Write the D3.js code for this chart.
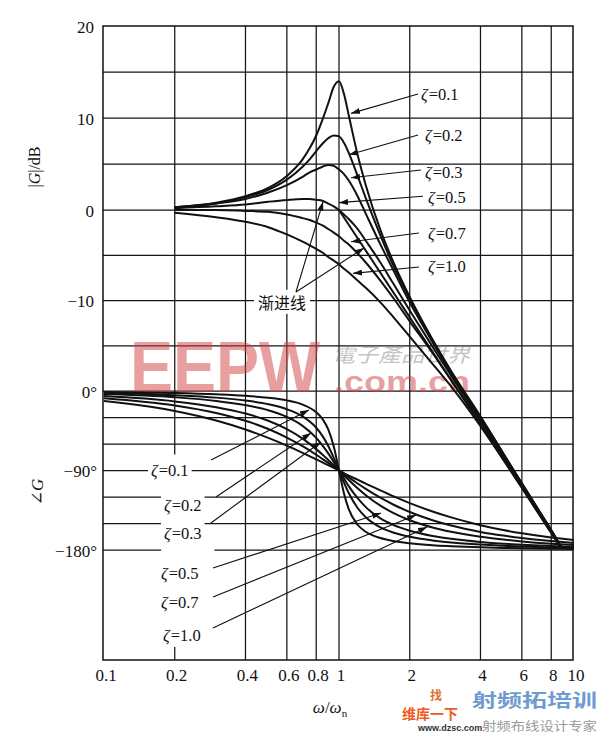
<!DOCTYPE html>
<html lang="zh">
<head>
  <meta charset="utf-8">
  <title>二阶系统伯德图</title>
  <script src="https://d3js.org/d3.v7.min.js"></script>
  <style>
    body { margin: 0; background: #fff; }
    svg { display: block; }
    .grid line { stroke: #151515; stroke-width: 1.25px; }
    .frame { fill: none; stroke: #111; stroke-width: 1.5px; }
    .curve { fill: none; stroke: #111; stroke-width: 2px; }
    .arrow { fill: none; stroke: #111; stroke-width: 1.1px; }
    .tick { font: 17px "Liberation Serif", "DejaVu Serif", serif; fill: #111; }
    .zlabel { font: 16.5px "Liberation Serif", "DejaVu Serif", serif; fill: #111; }
    .title { font: 16px "Liberation Serif", "DejaVu Serif", serif; fill: #111; }
  </style>
</head>
<body>
<svg id="chart" width="600" height="734"></svg>
<script>

// damping ratios
var zetas = ["0.1", "0.2", "0.3", "0.5", "0.7", "1.0"];

// magnitude |G| (dB), upper part of the chart
var magW   = [0.2, 0.3, 0.4, 0.5, 0.6, 0.7, 0.75, 0.8, 0.85, 0.9, 0.95, 1.0, 1.05, 1.1, 1.2, 1.3, 1.5, 1.7, 2, 2.5, 3, 4, 5, 6, 7, 8, 8.8];
var magZ01 = [0.3, 0.8, 1.5, 2.4, 3.7, 5.5, 6.7, 8.1, 9.8, 11.6, 13.4, 14.0, 12.6, 10.3, 6.0, 2.7, -2.2, -5.7, -9.6, -14.3, -17.8, -22.8, -26.9, -30.2, -33.0, -35.4, -37.2];
var magZ02 = [0.3, 0.7, 1.4, 2.2, 3.3, 4.7, 5.5, 6.4, 7.2, 7.8, 8.1, 8.0, 7.3, 6.2, 3.7, 1.3, -2.8, -6.1, -9.8, -14.4, -17.9, -22.9, -26.9, -30.2, -33.0, -35.4, -37.2];
var magZ03 = [0.3, 0.7, 1.2, 1.9, 2.7, 3.6, 4.1, 4.4, 4.7, 4.9, 4.8, 4.4, 3.9, 3.2, 1.5, -0.4, -3.8, -6.6, -10.2, -14.6, -18.0, -23.0, -27.0, -30.3, -33.0, -35.4, -37.2];
var magZ05 = [0.2, 0.4, 0.6, 0.9, 1.1, 1.2, 1.2, 1.1, 1.0, 0.7, 0.4, 0.0, -0.5, -1.0, -2.1, -3.4, -5.8, -8.1, -11.1, -15.1, -18.3, -23.2, -27.1, -30.3, -33.1, -35.5, -37.3];
var magZ07 = [0.0, 0.0, -0.1, -0.2, -0.5, -0.9, -1.1, -1.4, -1.7, -2.1, -2.5, -2.9, -3.4, -3.8, -4.8, -5.8, -7.8, -9.7, -12.3, -15.8, -18.8, -23.4, -27.3, -30.4, -33.2, -35.5, -37.3];
var magZ10 = [-0.3, -0.8, -1.3, -1.9, -2.7, -3.5, -3.9, -4.3, -4.7, -5.2, -5.6, -6.0, -6.5, -6.9, -7.8, -8.6, -10.2, -11.8, -14.0, -17.0, -19.5, -23.9, -27.6, -30.7, -33.4, -35.7, -37.4];

// asymptote (sloped part)
var asymW  = [1, 8.8];
var asymDb = [0, -37.2];

// phase angle (deg), lower part of the chart
var phW   = [0.1, 0.2, 0.3, 0.4, 0.5, 0.6, 0.7, 0.8, 0.85, 0.9, 0.95, 1, 1.05, 1.1, 1.2, 1.3, 1.5, 1.7, 2, 2.5, 3, 4, 5, 6, 8, 10];
var phZ01 = [-1.2, -2.4, -3.8, -5.4, -7.6, -10.6, -15.4, -24.0, -31.5, -43.5, -62.8, -90, -116.0, -133.7, -151.4, -159.4, -166.5, -169.8, -172.4, -174.6, -175.7, -177.0, -177.6, -178.0, -178.6, -178.8];
var phZ02 = [-2.3, -4.8, -7.5, -10.8, -14.9, -20.6, -28.8, -41.6, -50.8, -62.2, -75.6, -90, -103.7, -115.5, -132.5, -143.0, -154.4, -160.2, -165.1, -169.2, -171.5, -173.9, -175.2, -176.1, -177.1, -177.7];
var phZ03 = [-3.5, -7.1, -11.2, -16.0, -21.8, -29.4, -39.5, -53.1, -61.5, -70.6, -80.3, -90, -99.2, -107.7, -121.4, -131.5, -144.3, -151.6, -158.2, -164.1, -167.3, -170.9, -172.9, -174.1, -175.6, -176.5];
var phZ05 = [-5.8, -11.8, -18.3, -25.5, -33.7, -43.2, -53.9, -65.8, -71.9, -78.1, -84.1, -90, -95.6, -100.8, -110.1, -118.0, -129.8, -138.0, -146.3, -154.5, -159.4, -165.1, -168.2, -170.3, -172.8, -174.2];
var phZ07 = [-8.1, -16.3, -24.8, -33.7, -43.0, -52.7, -62.5, -72.2, -76.9, -81.4, -85.8, -90, -94.0, -97.8, -104.7, -110.8, -120.8, -128.5, -137.0, -146.3, -152.3, -159.5, -163.7, -166.5, -169.9, -172.0];
var phZ10 = [-11.4, -22.6, -33.4, -43.6, -53.1, -61.9, -70.0, -77.3, -80.7, -84.0, -87.1, -90, -92.9, -95.7, -100.4, -104.9, -112.6, -119.1, -126.9, -136.4, -143.1, -151.9, -157.4, -161.1, -165.8, -168.6];

// ticks and grid
var xTicks    = [0.1, 0.2, 0.4, 0.6, 0.8, 1, 2, 4, 6, 8, 10];
var xTickText = ["0.1", "0.2", "0.4", "0.6", "0.8", "1", "2", "4", "6", "8", "10"];
var xGrid     = [0.2, 0.4, 0.6, 0.8, 1, 2, 4, 6, 8];
var magGrid   = [15, 10, 5, 0, -5, -10, -15];
var magTicks  = [20, 10, 0, -10];
var phGrid    = [0, -30, -60, -90, -120, -150, -180];
var phTicks   = [0, -90, -180];

// annotations: label position, arrow start, arrow tip  [omega, value]
var magNoteAt   = [[2.233, 12.6], [2.322, 8.15], [2.322, 4.1], [2.393, 1.4], [2.393, -2.54], [2.393, -6.2]];
var magNoteFrom = [[2.169, 12.6], [2.169, 8.15], [2.233, 4.35], [2.277, 1.5], [2.19, -2.54], [2.19, -6.3]];
var magNoteTo   = [[1.125, 10.5], [1.103, 6.0], [1.125, 3.5], [1.0, 0.8], [1.125, -3.5], [1.147, -7.0]];
var phNoteAt    = [[0.1585, -89.4], [0.18, -129.1], [0.18, -160.8], [0.1748, -206], [0.1748, -238.9], [0.1783, -276.3]];
var phNoteFrom  = [[0.2852, -78.1], [0.2996, -120], [0.2852, -149.4], [0.291, -200.4], [0.291, -233.2], [0.291, -268.3]];
var phNoteTo    = [[0.745, -21.5], [0.76, -47.5], [0.838, -57.7], [1.51, -138.1], [2.13, -140.4], [2.37, -154]];
var asymNoteAt   = [0.572, -10.3];
var asymNoteFrom = [0.656, -9.06];
var asymNoteTo   = [[0.855, 0.9], [1.277, -4.2]];

var magSeries = [magZ01, magZ02, magZ03, magZ05, magZ07, magZ10];
var phSeries  = [phZ01, phZ02, phZ03, phZ05, phZ07, phZ10];

var svg = d3.select("#chart");
var plotLeft = 103, plotRight = 573, plotTop = 26, plotBottom = 660;

var x = d3.scaleLog().domain([0.1, 10]).range([plotLeft + 1, plotRight + 1]);
var yMag = d3.scaleLinear().domain([20, 0, -20]).range([plotTop, 210, 391]);
var yPh = d3.scaleLinear().domain([0, -180]).range([391, 550]);

svg.append("defs").append("marker")
    .attr("id", "head")
    .attr("markerUnits", "userSpaceOnUse")
    .attr("markerWidth", 9).attr("markerHeight", 6)
    .attr("refX", 9).attr("refY", 3)
    .attr("orient", "auto")
  .append("path")
    .attr("d", "M0,0L9,3L0,6Z")
    .attr("fill", "#111");

var gGrid = svg.append("g").attr("class", "grid");
var gMask = svg.append("g");
var gWater = svg.append("g");
var gCurve = svg.append("g");
var gNote = svg.append("g");

// grid
gGrid.selectAll(".vx").data(xGrid).enter().append("line")
    .attr("x1", function(d) { return x(d); }).attr("x2", function(d) { return x(d); })
    .attr("y1", plotTop).attr("y2", plotBottom);
gGrid.selectAll(".hm").data(magGrid).enter().append("line")
    .attr("x1", plotLeft).attr("x2", plotRight)
    .attr("y1", function(d) { return yMag(d); }).attr("y2", function(d) { return yMag(d); });
gGrid.selectAll(".hp").data(phGrid).enter().append("line")
    .attr("x1", plotLeft).attr("x2", plotRight)
    .attr("y1", function(d) { return yPh(d); }).attr("y2", function(d) { return yPh(d); });
svg.append("rect").attr("class", "frame")
    .attr("x", plotLeft).attr("y", plotTop)
    .attr("width", plotRight - plotLeft).attr("height", plotBottom - plotTop);

// gaps in the grid behind the lower labels
gMask.append("rect").attr("fill", "#fff")
    .attr("x", x(0.2) - 3).attr("width", 6)
    .attr("y", yPh(-72)).attr("height", yPh(-289) - yPh(-72));
gMask.append("rect").attr("fill", "#fff")
    .attr("x", x(0.175)).attr("width", x(0.295) - x(0.175))
    .attr("y", yPh(-180) - 3).attr("height", 6);

// watermark
gWater.append("text").text("EEPW")
    .attr("x", 130).attr("y", 392)
    .attr("textLength", 190).attr("lengthAdjust", "spacingAndGlyphs")
    .style("font", "bold 72px 'Liberation Sans', Arial, sans-serif")
    .attr("fill", "#d24040").attr("fill-opacity", 0.5);
gWater.append("text").text("電子產品世界")
    .attr("x", 332).attr("y", 362)
    .attr("textLength", 138).attr("lengthAdjust", "spacingAndGlyphs")
    .style("font", "italic 20px 'Noto Sans CJK TC', sans-serif")
    .attr("fill", "#888").attr("fill-opacity", 0.5);
gWater.append("text").text(".com.cn")
    .attr("x", 334).attr("y", 392)
    .attr("textLength", 136).attr("lengthAdjust", "spacingAndGlyphs")
    .style("font", "bold 30px 'Liberation Sans', Arial, sans-serif")
    .attr("fill", "#d24040").attr("fill-opacity", 0.5);
gWater.append("text").text("找")
    .attr("x", 430).attr("y", 700)
    .style("font", "bold 12px 'Noto Sans CJK SC', sans-serif").attr("fill", "#e07030");
gWater.append("text").text("维库一下")
    .attr("x", 402).attr("y", 719)
    .style("font", "bold 14px 'Noto Sans CJK SC', sans-serif").attr("fill", "#f05a20");
gWater.append("text").text("射频拓培训")
    .attr("x", 472).attr("y", 707)
    .attr("textLength", 125).attr("lengthAdjust", "spacingAndGlyphs")
    .style("font", "bold 18px 'Noto Sans CJK SC', sans-serif").attr("fill", "#6f9bd0");
gWater.append("text").text("www.dzsc.com")
    .attr("x", 418).attr("y", 731)
    .style("font", "bold 9px 'Liberation Sans', sans-serif").attr("fill", "#333");
gWater.append("text").text("射频布线设计专家")
    .attr("x", 482).attr("y", 731)
    .attr("textLength", 115).attr("lengthAdjust", "spacingAndGlyphs")
    .style("font", "12px 'Noto Sans CJK SC', sans-serif").attr("fill", "#999");

// curves
var magLine = d3.line()
    .curve(d3.curveMonotoneX)
    .x(function(d) { return x(d[0]); })
    .y(function(d) { return yMag(d[1]); });
var phLine = d3.line()
    .curve(d3.curveMonotoneX)
    .x(function(d) { return x(d[0]); })
    .y(function(d) { return yPh(d[1]); });

gCurve.selectAll(".mag").data(magSeries).enter().append("path")
    .attr("class", "curve")
    .attr("d", function(s) { return magLine(magW.map(function(w, i) { return [w, s[i]]; })); });
gCurve.append("path").attr("class", "curve")
    .attr("d", magLine(asymW.map(function(w, i) { return [w, asymDb[i]]; })));
gCurve.selectAll(".ph").data(phSeries).enter().append("path")
    .attr("class", "curve")
    .attr("d", function(s) { return phLine(phW.map(function(w, i) { return [w, s[i]]; })); });

// zeta labels
function zLabel(px, py, z, mask) {
  var t = gNote.append("text").attr("class", "zlabel")
      .attr("x", px).attr("y", py).attr("dy", "0.35em");
  t.append("tspan").style("font-style", "italic").text("ζ");
  t.append("tspan").attr("dx", 1).text("=" + z);
  if (mask) {
    var b = t.node().getBBox();
    gMask.append("rect").attr("fill", "#fff")
        .attr("x", b.x - 3).attr("y", b.y - 2)
        .attr("width", b.width + 6).attr("height", b.height + 4);
  }
}
function arrow(p0, p1) {
  gNote.append("line").attr("class", "arrow")
      .attr("x1", p0[0]).attr("y1", p0[1])
      .attr("x2", p1[0]).attr("y2", p1[1])
      .attr("marker-end", "url(#head)");
}

zetas.forEach(function(z, i) {
  zLabel(x(magNoteAt[i][0]), yMag(magNoteAt[i][1]), z, false);
  arrow([x(magNoteFrom[i][0]), yMag(magNoteFrom[i][1])], [x(magNoteTo[i][0]), yMag(magNoteTo[i][1])]);
  zLabel(x(phNoteAt[i][0]), yPh(phNoteAt[i][1]), z, true);
  arrow([x(phNoteFrom[i][0]), yPh(phNoteFrom[i][1])], [x(phNoteTo[i][0]), yPh(phNoteTo[i][1])]);
});

// asymptote label
var at = gNote.append("text").text("渐进线")
    .attr("x", x(asymNoteAt[0])).attr("y", yMag(asymNoteAt[1])).attr("dy", "0.35em")
    .attr("text-anchor", "middle")
    .style("font", "16px 'Noto Sans CJK SC', sans-serif").attr("fill", "#111");
var ab = at.node().getBBox();
gMask.append("rect").attr("fill", "#fff")
    .attr("x", ab.x - 4).attr("y", ab.y).attr("width", ab.width + 8).attr("height", ab.height);
asymNoteTo.forEach(function(p) {
  arrow([x(asymNoteFrom[0]), yMag(asymNoteFrom[1])], [x(p[0]), yMag(p[1])]);
});

// tick labels
gNote.selectAll(".xt").data(xTicks).enter().append("text")
    .attr("class", "tick").attr("text-anchor", "middle")
    .attr("x", function(d) { return x(d) + 2; }).attr("y", 675).attr("dy", "0.35em")
    .text(function(d, i) { return xTickText[i]; });
gNote.selectAll(".mt").data(magTicks).enter().append("text")
    .attr("class", "tick").attr("text-anchor", "end")
    .attr("x", 94).attr("y", function(d) { return yMag(d) + 1; }).attr("dy", "0.35em")
    .text(function(d) { return d < 0 ? "\u2212" + (-d) : d; });
gNote.selectAll(".pt").data(phTicks).enter().append("text")
    .attr("class", "tick").attr("text-anchor", "end")
    .attr("x", 97).attr("y", function(d) { return yPh(d) + 1; }).attr("dy", "0.35em")
    .text(function(d) { return (d < 0 ? "\u2212" + (-d) : d) + "°"; });

// axis titles
var t1 = gNote.append("text").attr("class", "title")
    .attr("transform", "translate(40,167) rotate(-90)").attr("text-anchor", "middle");
t1.append("tspan").text("|");
t1.append("tspan").style("font-style", "italic").text("G");
t1.append("tspan").text("|/dB");

var t2 = gNote.append("text").attr("class", "title")
    .attr("transform", "translate(43,492) rotate(-90)").attr("text-anchor", "middle")
    .style("font-size", "17px");
t2.append("tspan").text("∠");
t2.append("tspan").style("font-style", "italic").text("G");

var t3 = gNote.append("text").attr("class", "title")
    .attr("x", 330).attr("y", 713).attr("text-anchor", "middle").style("font-size", "17px");
t3.append("tspan").style("font-style", "italic").text("ω");
t3.append("tspan").text("/");
t3.append("tspan").style("font-style", "italic").text("ω");
t3.append("tspan").attr("dy", 4).style("font-size", "11px").text("n");

</script>
</body>
</html>
